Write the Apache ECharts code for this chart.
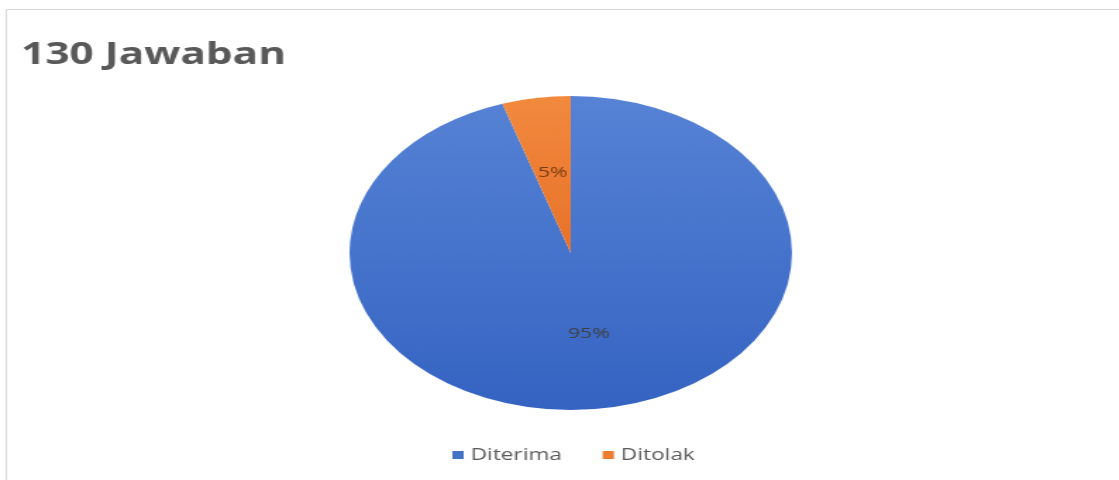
<!DOCTYPE html>
<html><head><meta charset="utf-8">
<script src="https://cdn.jsdelivr.net/npm/echarts@6/dist/echarts.min.js"></script>
<style>
html,body{margin:0;padding:0;background:#fff;overflow:hidden}
#wrap{width:1119px;height:480px;overflow:hidden;position:relative;background:#fff}
#chart{width:794px;height:480px;transform:scaleX(1.4093);transform-origin:0 0;}
</style></head>
<body><div id="wrap"><div id="chart"></div></div>
<script>
const titleText = '130 Jawaban';
const categories = ['Diterima', 'Ditolak'];
const values = [95, 5];

const chart = echarts.init(document.getElementById('chart'), null, {renderer: 'canvas'});
const grad = (c1, c2) => new echarts.graphic.LinearGradient(0, 0, 0, 1, [{offset: 0, color: c1}, {offset: 1, color: c2}]);
const fills = [grad('#5683d5', '#3563c2'), grad('#f28a3e', '#e8712a')];
const legendColors = ['#4472c4', '#ed7d31'];

chart.setOption({
  animation: false,
  backgroundColor: '#ffffff',
  graphic: [{
    type: 'polyline', silent: true,
    shape: {points: [[4.5, 480], [4.5, 9.5], [794, 9.5]]},
    style: {stroke: '#d9d9d9', lineWidth: 1, fill: null}
  }],
  title: {
    text: titleText, left: 10, top: 35,
    textStyle: {fontFamily: 'Open Sans', fontWeight: 'bold', fontSize: 30, color: '#595959'}
  },
  legend: {
    data: categories.map((n, i) => ({name: n, itemStyle: {color: legendColors[i]}})),
    left: 316, top: 442, icon: 'rect', itemWidth: 8, itemHeight: 8, itemGap: 29,
    textStyle: {fontFamily: 'Open Sans', fontSize: 16, color: '#595959'}
  },
  series: [{
    type: 'pie', center: [405, 253], radius: 157, startAngle: 90, clockwise: true,
    percentPrecision: 0,
    label: {position: 'inside', formatter: '{d}%', fontFamily: 'Open Sans', fontSize: 15, color: '#404040'},
    labelLine: {show: false},
    emphasis: {disabled: true},
    data: categories.map((n, i) => ({name: n, value: values[i], itemStyle: {color: fills[i]},
      label: i === 1 ? {color: '#7a3a10'} : {}}))
  }]
});
</script></body></html>
